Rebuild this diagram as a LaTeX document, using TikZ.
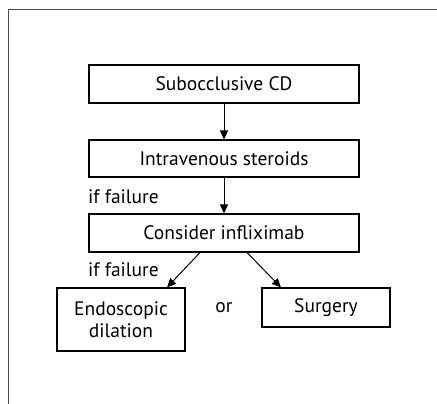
\documentclass[tikz,border=0pt]{standalone}
\usepackage{fontspec}
\setmainfont{PT Sans}
\usetikzlibrary{arrows.meta,calc}
\begin{document}
\begin{tikzpicture}[x=1pt,y=-1pt,
  box/.style={draw,line width=1.1pt,minimum width=270pt,inner sep=0pt,font=\fontsize{19.5}{23}\selectfont},
  lbl/.style={inner sep=0pt,font=\fontsize{19.5}{23}\selectfont},
  arr/.style={line width=1pt,-{Triangle[length=9pt,width=8pt]}}]
\useasboundingbox (0,0) rectangle (437,404);
\draw[line width=1pt,black!70] (8,404) -- (8,10) -- (437,10);
\node[box,minimum height=38pt] (b1) at (224,84) {Subocclusive CD};
\node[box,minimum height=37pt] (b2) at (224,158.5) {Intravenous steroids};
\node[box,minimum height=38pt] (b3) at (224,233) {Consider infliximab};
\node[box,minimum width=128pt,minimum height=63pt,align=center] (b4) at (121,319.5) {Endoscopic\\[-1pt]dilation};
\node[box,minimum width=128pt,minimum height=39pt] (b5) at (326,307.5) {Surgery};
\node[lbl,anchor=west] (f1) at (88,197) {if failure};
\node[lbl,anchor=west] (f2) at (88,270) {if failure};
\node[lbl] (or) at (224,308) {or};
\draw[arr] (b1) -- (b2);
\draw[arr] (b2) -- (b3);
\draw[arr] ([xshift=-24pt]b3.south) -- ([xshift=46pt]b4.north);
\draw[arr] ([xshift=23pt]b3.south) -- ([xshift=-45pt]b5.north);
\end{tikzpicture}
\end{document}
